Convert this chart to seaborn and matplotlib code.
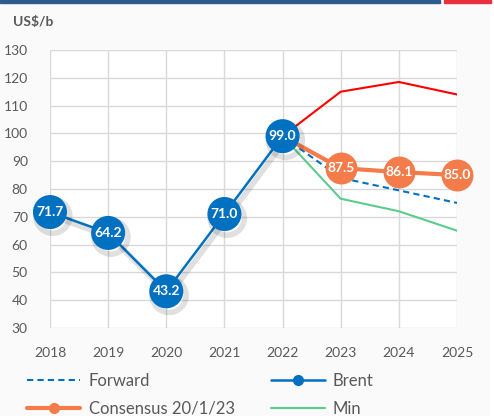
import matplotlib
matplotlib.use("Agg")
import matplotlib.pyplot as plt
import matplotlib.patheffects as pe
from matplotlib.lines import Line2D
import seaborn as sns
import pandas as pd

years_hist = [2018, 2019, 2020, 2021, 2022]
brent = [71.7, 64.2, 43.2, 71.0, 99.0]
years_fc = [2022, 2023, 2024, 2025]
consensus = [99.0, 87.5, 86.1, 85.0]
forward = [99.0, 84.0, 79.5, 75.0]
max_fc = [99.0, 115.0, 118.5, 114.0]
min_fc = [99.0, 76.5, 72.0, 65.0]
year_ticks = [2018, 2019, 2020, 2021, 2022, 2023, 2024, 2025]
y_ticks = [30, 40, 50, 60, 70, 80, 90, 100, 110, 120, 130]

BLUE = "#0070C0"
ORANGE = "#F47B4A"
GREEN = "#5CCB8E"
RED = "#FF0000"
GRID = "#D9D9D9"
TXT = "#595959"

sns.set_theme(style="white")
plt.rcParams["font.family"] = ["Lato", "DejaVu Sans"]

fig = plt.figure(figsize=(4.94, 4.16), dpi=100, facecolor="#FAFAFA")
ax = fig.add_axes([50/494, 88/416, 407/494, 278/416])
ax.set_facecolor("white")

# top decorative bars
fig.patches.append(plt.Rectangle((0, 413/416), 440/494, 3/416, transform=fig.transFigure,
                                 color="#2F5A8F", zorder=5))
fig.patches.append(plt.Rectangle((444/494, 413/416), 47/494, 3/416, transform=fig.transFigure,
                                 color="#E8303F", zorder=5))
fig.patches.append(plt.Rectangle((490/494, 0), 4/494, 413/416, transform=fig.transFigure,
                                 color="white", zorder=0))

df_fc = pd.DataFrame({"year": years_fc, "consensus": consensus, "forward": forward,
                      "max": max_fc, "min": min_fc})
df_h = pd.DataFrame({"year": years_hist, "brent": brent})

sns.lineplot(data=df_fc, x="year", y="max", color=RED, lw=1.5, ax=ax, zorder=3)
sns.lineplot(data=df_fc, x="year", y="min", color=GREEN, lw=1.5, ax=ax, zorder=3)
sns.lineplot(data=df_fc, x="year", y="forward", color=BLUE, lw=1.5, ls=(0, (3, 2)), ax=ax, zorder=3)
sns.lineplot(data=df_fc.iloc[:2], x="year", y="consensus", color=ORANGE, lw=3, ax=ax, zorder=3.5)
sns.lineplot(data=df_fc.iloc[1:], x="year", y="consensus", color=ORANGE, lw=3, ax=ax, zorder=4,
             marker="o", markersize=23, markeredgewidth=0, clip_on=False)
sns.lineplot(data=df_h, x="year", y="brent", color=BLUE, lw=1.8, ax=ax, zorder=5,
             marker="o", markersize=24.5, markeredgewidth=0, clip_on=False,
             path_effects=[pe.SimpleLineShadow(offset=(2, -3), alpha=0.12, shadow_color="black",
                                               linewidth=4),
                           pe.Normal()])

for x, v in zip(years_hist, brent):
    ax.text(x, v, f"{v:.1f}", color="white", fontsize=10, fontweight="bold",
            ha="center", va="center", zorder=6, clip_on=False)
for x, v in zip(years_fc[1:], consensus[1:]):
    ax.text(x, v, f"{v:.1f}", color="white", fontsize=10, fontweight="bold",
            ha="center", va="center", zorder=6, clip_on=False)

ax.set_xlim(2018, 2025)
ax.set_ylim(30, 130)
ax.set_xticks(year_ticks)
ax.set_xticklabels([str(y) for y in year_ticks])
ax.set_yticks(y_ticks)
ax.grid(True, color=GRID, lw=1)
ax.set_axisbelow(True)
for s in ax.spines.values():
    s.set_visible(False)
ax.tick_params(axis="both", colors=TXT, labelsize=10, length=0)
ax.tick_params(axis="x", pad=14)
ax.tick_params(axis="y", pad=16)
ax.set_xlabel("")
ax.set_ylabel("")
if ax.get_legend():
    ax.get_legend().remove()

fig.text(13/494, 1 - 22/416, "US$/b", fontsize=10, fontweight="bold", color=TXT,
         ha="left", va="center")

handles = [
    Line2D([], [], color=BLUE, lw=1.5, ls=(0, (3, 2))),
    Line2D([], [], color=ORANGE, lw=3, marker="o", markersize=7),
    Line2D([], [], color=BLUE, lw=1.8, marker="o", markersize=7),
    Line2D([], [], color=GREEN, lw=1.5),
]
labels = ["Forward", "Consensus 20/1/23", "Brent", "Min"]
fig.legend(handles, labels, ncol=2, loc="upper left", bbox_to_anchor=(27/494, 1 - 373/416),
           frameon=False, fontsize=12, labelcolor=TXT, handlelength=3.2, columnspacing=2.2,
           handletextpad=0.5, labelspacing=0.7, borderpad=0, borderaxespad=0)

fig.savefig("out.png", dpi=100, facecolor=fig.get_facecolor())
